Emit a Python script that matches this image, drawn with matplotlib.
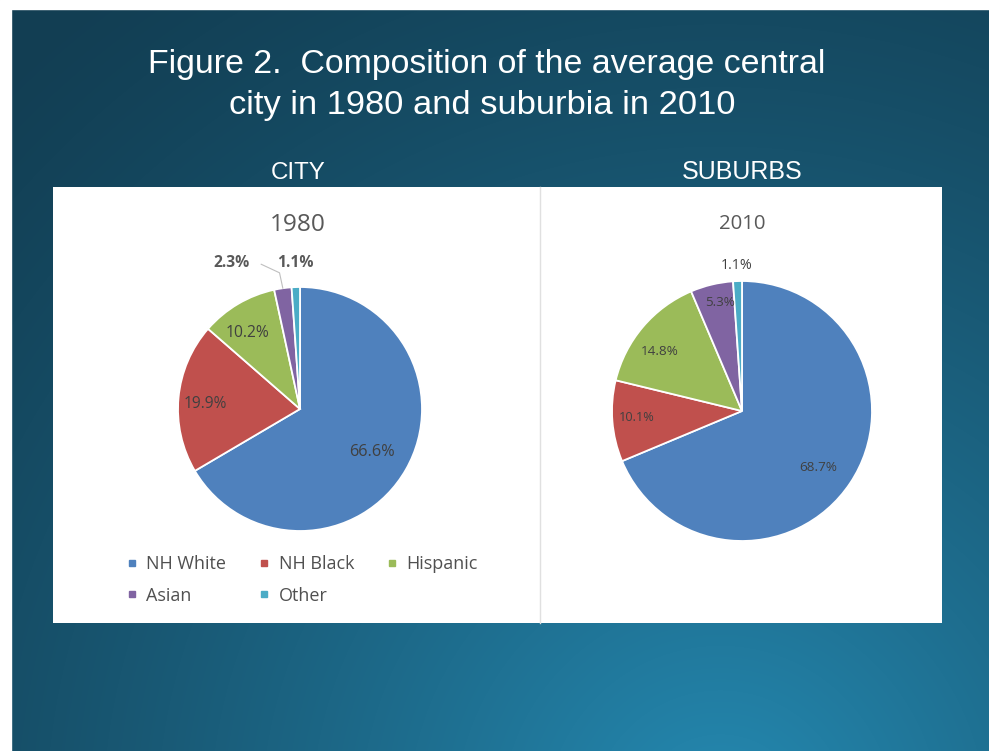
import numpy as np
import matplotlib
matplotlib.use("Agg")
import matplotlib.pyplot as plt
from matplotlib.patches import Rectangle
from matplotlib.lines import Line2D
from matplotlib import font_manager

# ---- data ----
categories = ["NH White", "NH Black", "Hispanic", "Asian", "Other"]
city_1980 = [66.6, 19.9, 10.2, 2.3, 1.1]
suburbs_2010 = [68.7, 10.1, 14.8, 5.3, 1.1]
colors = ["#4f81bd", "#c0504d", "#9bbb59", "#8064a2", "#4bacc6"]

W, H = 989, 751


def pick_font(names):
    for n in names:
        try:
            font_manager.findfont(n, fallback_to_default=False)
            return n
        except Exception:
            continue
    return "DejaVu Sans"


HEAD_FONT = pick_font(["Liberation Sans Narrow", "Liberation Sans", "DejaVu Sans"])
BODY_FONT = pick_font(["Open Sans", "Lato", "DejaVu Sans"])

fig = plt.figure(figsize=(W / 100, H / 100), dpi=100)
renderer = fig.canvas.get_renderer()

# ---- slide background ----
bg = fig.add_axes([0, 0, 1, 1])
yy, xx = np.mgrid[0:H, 0:W]
d = np.hypot(xx - 720.0, yy - 820.0)
f = np.clip(1 - d / 1050.0, 0, 1) ** 1.3
dark = np.array([0x12, 0x3e, 0x53]) / 255
light = np.array([0x25, 0x8a, 0xb2]) / 255
img = dark + (light - dark) * f[..., None]
bg.imshow(img, extent=(0, W, H, 0), aspect="auto", zorder=0, interpolation="bilinear")
bg.set_xlim(0, W)
bg.set_ylim(H, 0)
bg.axis("off")
bg.add_patch(Rectangle((0, 0), 11, H, color="white", zorder=1))
bg.add_patch(Rectangle((0, 0), W, 9, color="white", zorder=1))

# chart panel
bg.add_patch(Rectangle((53, 187), 889, 436, facecolor="white", edgecolor="none", zorder=2))
bg.plot([540, 540], [187, 623], color="#e0e0e0", lw=1, zorder=3)


def fit_text(ax, x, y, s, width_px, **kw):
    t = ax.text(x, y, s, **kw)
    w = t.get_window_extent(renderer).width
    t.set_fontsize(t.get_fontsize() * width_px / w)
    return t


head = dict(color="white", family=HEAD_FONT, ha="center", va="baseline", zorder=4)
fit_text(bg, 487, 73, "Figure 2.  Composition of the average central", 678, fontsize=24, **head)
fit_text(bg, 482, 114, "city in 1980 and suburbia in 2010", 506, fontsize=24, **head)
fit_text(bg, 298, 179, "CITY", 55, fontsize=14, **head)
fit_text(bg, 742, 179, "SUBURBS", 121, fontsize=14, **head)

sub = dict(color="#595959", family=BODY_FONT, ha="center", va="baseline", zorder=4)
fit_text(bg, 298, 231, "1980", 56, fontsize=16, **sub)
fit_text(bg, 742, 229, "2010", 47, fontsize=14, **sub)


def pie_axes(cx, cy, r, lim=1.4):
    half = lim * r
    ax = fig.add_axes([(cx - half) / W, (H - cy - half) / H, 2 * half / W, 2 * half / H])
    return ax, lim


def draw_pie(cx, cy, r, values, label_pos, label_widths, label_bold):
    ax, lim = pie_axes(cx, cy, r)
    wedges, _ = ax.pie(values, colors=colors, startangle=90, counterclock=False,
                       wedgeprops=dict(edgecolor="white", linewidth=1.3))
    ax.set_xlim(-lim, lim)
    ax.set_ylim(-lim, lim)
    ax.set_aspect("equal")
    ax.axis("off")
    texts = []
    for w, v, (rad, ang), wpx, bold in zip(wedges, values, label_pos, label_widths, label_bold):
        mid = 0.5 * (w.theta1 + w.theta2)
        a = np.deg2rad(mid if ang is None else ang)
        t = fit_text(ax, rad * np.cos(a), rad * np.sin(a), f"{v:.1f}%", wpx, fontsize=10,
                     ha="center", va="center", family=BODY_FONT,
                     color="#595959" if bold else "#404040",
                     fontweight="bold" if bold else "normal")
        texts.append((t, w, mid))
    return ax, texts


# label placement: (radius, angle override in degrees)
city_pos = [(0.69, -30.8), (0.78, 177.0), (0.755, 124.4), (1.32, 115.0), (1.2, None)]
city_w = [46, 44, 44, 36, 36]
city_bold = [False, False, False, True, True]
ax1, t1 = draw_pie(300, 409, 122, city_1980, city_pos, city_w, city_bold)

# leader line for the small Asian slice
t_asian, w_asian, mid_asian = t1[3]
a = np.deg2rad(mid_asian)
x0, y0 = 1.32 * np.cos(np.deg2rad(115)) + 0.24, 1.32 * np.sin(np.deg2rad(115)) - 0.01
ax1.plot([x0, x0 + 0.15, np.cos(a)], [y0, y0 - 0.07, np.sin(a)], color="#bfbfbf", lw=0.8)

sub_pos = [(0.73, -36.4), (0.81, 183.8), (0.78, 143.8), (0.855, 101.4), (1.12, 92.0)]
sub_w = [38, 36, 38, 30, 32]
sub_bold = [False, False, False, False, False]
ax2, t2 = draw_pie(742, 411, 130, suburbs_2010, sub_pos, sub_w, sub_bold)

# ---- legend (city panel) ----
handles = [Line2D([], [], marker="s", linestyle="none", markersize=4.5,
                  markerfacecolor=c, markeredgecolor=c) for c in colors]
order = [0, 3, 1, 4, 2]
leg = fig.legend([handles[i] for i in order], [categories[i] for i in order],
                 ncol=3, loc="center left", frameon=False,
                 bbox_to_anchor=(127.5 / W, 1 - 580 / H),
                 prop=dict(family=BODY_FONT, size=13),
                 handlelength=0.5, handletextpad=0.55, columnspacing=1.85,
                 labelspacing=0.75, borderpad=0, borderaxespad=0)
for txt in leg.get_texts():
    txt.set_color("#505050")

fig.savefig("out.png", dpi=100)
